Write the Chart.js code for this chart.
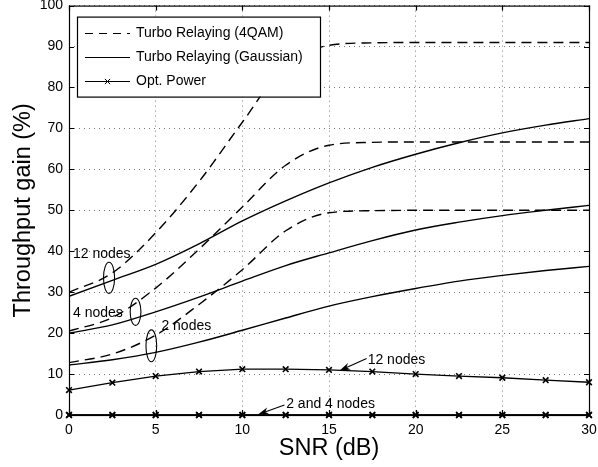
<!DOCTYPE html>
<html>
<head>
<meta charset="utf-8">
<script src="https://cdn.jsdelivr.net/npm/chart.js@4.4.1/dist/chart.umd.min.js"></script>
<style>
  html, body { margin: 0; padding: 0; background: #fff; }
  #wrap { width: 598px; height: 467px; }
</style>
</head>
<body>
<div id="wrap"><canvas id="chart" width="598" height="467"></canvas></div>
<script>
// ─── Data ───
const SNR_DB   = [0, 2.5, 5, 7.5, 10, 12.5, 15, 17.5, 20, 22.5, 25, 27.5, 30];
const QAM_12   = [30, 34.7, 44.5, 57, 71.5, 85.5, 90.3, 90.9, 91, 91, 91, 91, 91];
const QAM_4    = [20.5, 23.8, 31, 40.5, 50.8, 61, 65.9, 66.6, 66.7, 66.7, 66.7, 66.7, 66.7];
const QAM_2    = [12.8, 14.9, 19.5, 27, 35.5, 45, 49.4, 49.9, 50, 50, 50, 50, 50];
const GAUSS_12 = [29, 32.9, 36.8, 41.8, 47.4, 52.3, 56.7, 60.5, 63.7, 66.5, 68.9, 70.8, 72.4];
const GAUSS_4  = [20, 22, 25.2, 28.8, 32.7, 36.5, 39.6, 42.6, 45.2, 47.1, 48.7, 50, 51.2];
const GAUSS_2  = [12.2, 13.5, 15.3, 17.8, 20.7, 23.7, 26.6, 28.9, 30.9, 32.7, 34.1, 35.3, 36.3];
const OPT_12   = [6.1, 7.9, 9.5, 10.6, 11.2, 11.2, 11.0, 10.6, 10.0, 9.5, 9.1, 8.5, 8.0];
const OPT_4    = [0, 0, 0, 0, 0, 0, 0, 0, 0, 0, 0, 0, 0];
const OPT_2    = [0, 0, 0, 0, 0, 0, 0, 0, 0, 0, 0, 0, 0];

const X_TICKS = [0, 5, 10, 15, 20, 25, 30];
const Y_TICKS = [0, 10, 20, 30, 40, 50, 60, 70, 80, 90, 100];
const LEGEND_LABELS = ['Turbo Relaying (4QAM)', 'Turbo Relaying (Gaussian)', 'Opt. Power'];

const FONT = '"Liberation Sans", Arial, Helvetica, sans-serif';
const DASH = [10, 6];

const pts = arr => SNR_DB.map((x, i) => ({ x, y: arr[i] }));

function curve(label, arr, dashed) {
  return {
    label, data: pts(arr),
    borderColor: '#000', borderWidth: 1.4,
    borderDash: dashed ? DASH : [],
    pointRadius: 0, cubicInterpolationMode: 'monotone', fill: false,
  };
}
function optCurve(label, arr) {
  return {
    label, data: pts(arr),
    borderColor: '#000', borderWidth: 1.3, tension: 0,
    pointStyle: 'crossRot', pointRadius: 4, pointBorderWidth: 1.6,
    pointBorderColor: '#000', pointBackgroundColor: '#000',
    clip: false, fill: false,
  };
}

// ─── Annotations (data coordinates, converted through the scales) ───
const NOTE_FONT = '14px ' + FONT;
const NOTES = [
  { text: '12 nodes',      x: 0.23,  y: 39.4 },
  { text: '4 nodes',       x: 0.23,  y: 24.8 },
  { text: '2 nodes',       x: 5.33,  y: 21.7 },
  { text: '12 nodes',      x: 17.23, y: 13.4 },
  { text: '2 and 4 nodes', x: 12.53, y: 2.7 },
];
const RINGS = [
  { x: 2.31, y: 33.5, rx: 0.32, ry: 3.8 },
  { x: 3.84, y: 25.2, rx: 0.31, ry: 3.3 },
  { x: 4.75, y: 16.9, rx: 0.31, ry: 3.9 },
];
const ARROWS = [
  { from: [17.17, 13.8], to: [15.6, 10.8] },
  { from: [12.43, 2.44], to: [10.9, 0.1] },
];

function drawArrow(ctx, x1, y1, x2, y2) {
  const a = Math.atan2(y2 - y1, x2 - x1), c = Math.cos(a), s = Math.sin(a);
  const L = 11, W = 3.5;
  ctx.beginPath();
  ctx.moveTo(x1, y1);
  ctx.lineTo(x2 - 6 * c, y2 - 6 * s);
  ctx.stroke();
  ctx.beginPath();
  ctx.moveTo(x2, y2);
  ctx.lineTo(x2 - L * c + W * s, y2 - L * s - W * c);
  ctx.lineTo(x2 - 0.7 * L * c, y2 - 0.7 * L * s);
  ctx.lineTo(x2 - L * c - W * s, y2 - L * s + W * c);
  ctx.closePath();
  ctx.fill();
}

const annotationPlugin = {
  id: 'notes',
  afterDatasetsDraw(chart) {
    const { ctx, scales: { x, y } } = chart;
    ctx.save();
    ctx.strokeStyle = '#000'; ctx.fillStyle = '#000'; ctx.lineWidth = 1.1;
    RINGS.forEach(r => {
      const cx = x.getPixelForValue(r.x), cy = y.getPixelForValue(r.y);
      const rx = x.getPixelForValue(r.x + r.rx) - cx;
      const ry = cy - y.getPixelForValue(r.y + r.ry);
      ctx.beginPath(); ctx.ellipse(cx, cy, rx, ry, 0, 0, Math.PI * 2); ctx.stroke();
    });
    ARROWS.forEach(a => drawArrow(ctx,
      x.getPixelForValue(a.from[0]), y.getPixelForValue(a.from[1]),
      x.getPixelForValue(a.to[0]), y.getPixelForValue(a.to[1])));
    ctx.font = NOTE_FONT; ctx.textAlign = 'left'; ctx.textBaseline = 'middle';
    NOTES.forEach(n => ctx.fillText(n.text, x.getPixelForValue(n.x), y.getPixelForValue(n.y)));
    ctx.restore();
  },
};

// box + inward ticks on all four sides (MATLAB style)
const framePlugin = {
  id: 'frame',
  afterDatasetsDraw(chart) {
    const { ctx, chartArea: a, scales: { x, y } } = chart;
    const T = 5;
    ctx.save();
    ctx.strokeStyle = '#000'; ctx.lineWidth = 1.2;
    ctx.strokeRect(a.left + 0.5, a.top + 0.5, a.right - a.left, a.bottom - a.top);
    ctx.beginPath();
    X_TICKS.forEach(v => {
      const px = Math.round(x.getPixelForValue(v)) + 0.5;
      ctx.moveTo(px, a.bottom); ctx.lineTo(px, a.bottom - T);
      ctx.moveTo(px, a.top); ctx.lineTo(px, a.top + T);
    });
    Y_TICKS.forEach(v => {
      const py = Math.round(y.getPixelForValue(v)) + 0.5;
      ctx.moveTo(a.left, py); ctx.lineTo(a.left + T, py);
      ctx.moveTo(a.right, py); ctx.lineTo(a.right - T, py);
    });
    ctx.stroke();
    ctx.restore();
  },
};

const legendPlugin = {
  id: 'legendBox',
  afterDraw(chart) {
    const { ctx, chartArea: a } = chart;
    const x0 = a.left + 8, y0 = a.top + 11, w = 243, h = 80;
    const rows = [16.5, 40.5, 64];
    ctx.save();
    ctx.fillStyle = '#fff';
    ctx.fillRect(x0, y0, w, h);
    ctx.strokeStyle = '#000'; ctx.lineWidth = 1.2;
    ctx.strokeRect(x0 + 0.5, y0 + 0.5, w, h);
    ctx.lineWidth = 1;
    ctx.font = '14px ' + FONT; ctx.textBaseline = 'middle'; ctx.fillStyle = '#000';
    LEGEND_LABELS.forEach((label, i) => {
      const ly = Math.round(y0 + rows[i]) + 0.5;
      ctx.beginPath();
      ctx.setLineDash(i === 0 ? [8, 6] : []);
      ctx.moveTo(x0 + 8, ly); ctx.lineTo(x0 + 53, ly);
      ctx.stroke();
      ctx.setLineDash([]);
      if (i === 2) {
        const mx = x0 + 30.5, r = 2.6;
        ctx.beginPath();
        ctx.moveTo(mx - r, ly - r); ctx.lineTo(mx + r, ly + r);
        ctx.moveTo(mx - r, ly + r); ctx.lineTo(mx + r, ly - r);
        ctx.stroke();
      }
      ctx.fillText(label, x0 + 59, ly);
    });
    ctx.restore();
  },
};

new Chart(document.getElementById('chart'), {
  type: 'line',
  data: {
    datasets: [
      curve('4QAM 12 nodes', QAM_12, true),
      curve('4QAM 4 nodes', QAM_4, true),
      curve('4QAM 2 nodes', QAM_2, true),
      curve('Gaussian 12 nodes', GAUSS_12, false),
      curve('Gaussian 4 nodes', GAUSS_4, false),
      curve('Gaussian 2 nodes', GAUSS_2, false),
      optCurve('Opt. Power 12 nodes', OPT_12),
      optCurve('Opt. Power 4 nodes', OPT_4),
      optCurve('Opt. Power 2 nodes', OPT_2),
    ],
  },
  options: {
    responsive: false,
    animation: false,
    events: [],
    devicePixelRatio: 1,
    layout: { padding: { left: 0, top: 5, right: 9, bottom: 0 } },
    plugins: { legend: { display: false }, tooltip: { enabled: false } },
    scales: {
      x: {
        type: 'linear', min: 0, max: 30,
        afterBuildTicks: s => { s.ticks = X_TICKS.map(v => ({ value: v })); },
        afterFit: s => { s.height = 52; s.paddingLeft = 0; s.paddingRight = 0; },
        ticks: { color: '#000', font: { family: FONT, size: 14 }, padding: 7, maxRotation: 0 },
        grid: { color: '#7a7a7a', lineWidth: 1, drawTicks: false },
        border: { display: false, dash: [1, 4] },
        title: { display: true, text: 'SNR (dB)', color: '#000',
                 font: { family: FONT, size: 23.5 }, padding: { top: 0, bottom: 4 } },
      },
      y: {
        min: 0, max: 100,
        afterBuildTicks: s => { s.ticks = Y_TICKS.map(v => ({ value: v })); },
        afterFit: s => { s.width = 69; s.paddingTop = 0; s.paddingBottom = 0; },
        ticks: { color: '#000', font: { family: FONT, size: 14 }, padding: 6 },
        grid: { color: '#7a7a7a', lineWidth: 1, drawTicks: false },
        border: { display: false, dash: [1, 4] },
        title: { display: true, text: 'Throughput gain (%)', color: '#000',
                 font: { family: FONT, size: 23.5 }, padding: { top: 9, bottom: 0 } },
      },
    },
  },
  plugins: [annotationPlugin, framePlugin, legendPlugin],
});
</script>
</body>
</html>
